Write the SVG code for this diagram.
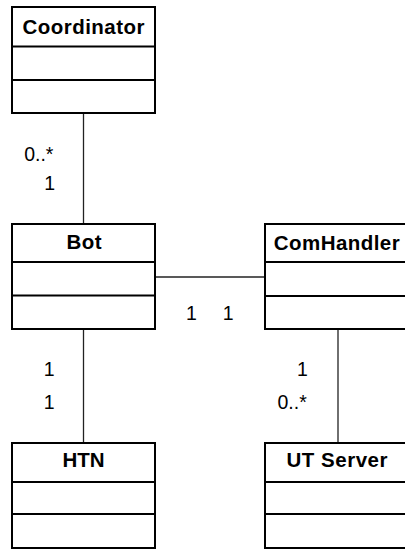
<svg xmlns="http://www.w3.org/2000/svg" width="405" height="549" viewBox="0 0 405 549">
  <style>
    .box { fill: #ffffff; stroke: #000000; stroke-width: 2; }
    .div { stroke: #000000; stroke-width: 2; }
    .title { font-family: "Liberation Sans", Arial, sans-serif; font-size: 20.5px; font-weight: bold; fill: #000000; text-anchor: middle; }
    .mult { font-family: "Liberation Sans", Arial, sans-serif; font-size: 19.5px; fill: #000000; }
    .link { stroke: #222222; stroke-width: 1.3; fill: none; }
  </style>
  <rect width="405" height="549" fill="#ffffff"/>

  <!-- associations -->
  <g id="connectors">
    <line class="link" x1="83.5" y1="113" x2="83.5" y2="224"/>
    <line class="link" x1="155" y1="277" x2="265" y2="277"/>
    <line class="link" x1="83.5" y1="329" x2="83.5" y2="443"/>
    <line class="link" x1="338" y1="329" x2="338" y2="443"/>
    <text class="mult" x="24.2" y="161">0..*</text>
    <text class="mult" x="44.3" y="189.5">1</text>
    <text class="mult" x="186" y="320">1</text>
    <text class="mult" x="222.8" y="320">1</text>
    <text class="mult" x="43.8" y="376">1</text>
    <text class="mult" x="43.8" y="408.5">1</text>
    <text class="mult" x="297" y="376">1</text>
    <text class="mult" x="277.5" y="409">0..*</text>
  </g>

  <g id="coordinator">
    <rect class="box" x="12" y="7" width="143" height="106"/>
    <line class="div" x1="12" y1="46.5" x2="155" y2="46.5"/>
    <line class="div" x1="12" y1="80" x2="155" y2="80"/>
    <text class="title" x="83.5" y="33.5" textLength="122" lengthAdjust="spacing">Coordinator</text>
  </g>

  <g id="bot">
    <rect class="box" x="12" y="224" width="143" height="105"/>
    <line class="div" x1="12" y1="262" x2="155" y2="262"/>
    <line class="div" x1="12" y1="295.5" x2="155" y2="295.5"/>
    <text class="title" x="84" y="249" textLength="35" lengthAdjust="spacing">Bot</text>
  </g>

  <g id="comhandler">
    <rect class="box" x="265" y="224" width="143" height="105"/>
    <line class="div" x1="265" y1="262" x2="408" y2="262"/>
    <line class="div" x1="265" y1="296" x2="408" y2="296"/>
    <text class="title" x="336.7" y="249.5" textLength="126" lengthAdjust="spacing">ComHandler</text>
  </g>

  <g id="htn">
    <rect class="box" x="12" y="443" width="143" height="105"/>
    <line class="div" x1="12" y1="482" x2="155" y2="482"/>
    <line class="div" x1="12" y1="514" x2="155" y2="514"/>
    <text class="title" x="83.5" y="467" textLength="42" lengthAdjust="spacing">HTN</text>
  </g>

  <g id="ut-server">
    <rect class="box" x="265" y="443" width="143" height="105"/>
    <line class="div" x1="265" y1="482" x2="408" y2="482"/>
    <line class="div" x1="265" y1="514" x2="408" y2="514"/>
    <text class="title" x="337" y="467" textLength="101" lengthAdjust="spacing">UT Server</text>
  </g>
</svg>
